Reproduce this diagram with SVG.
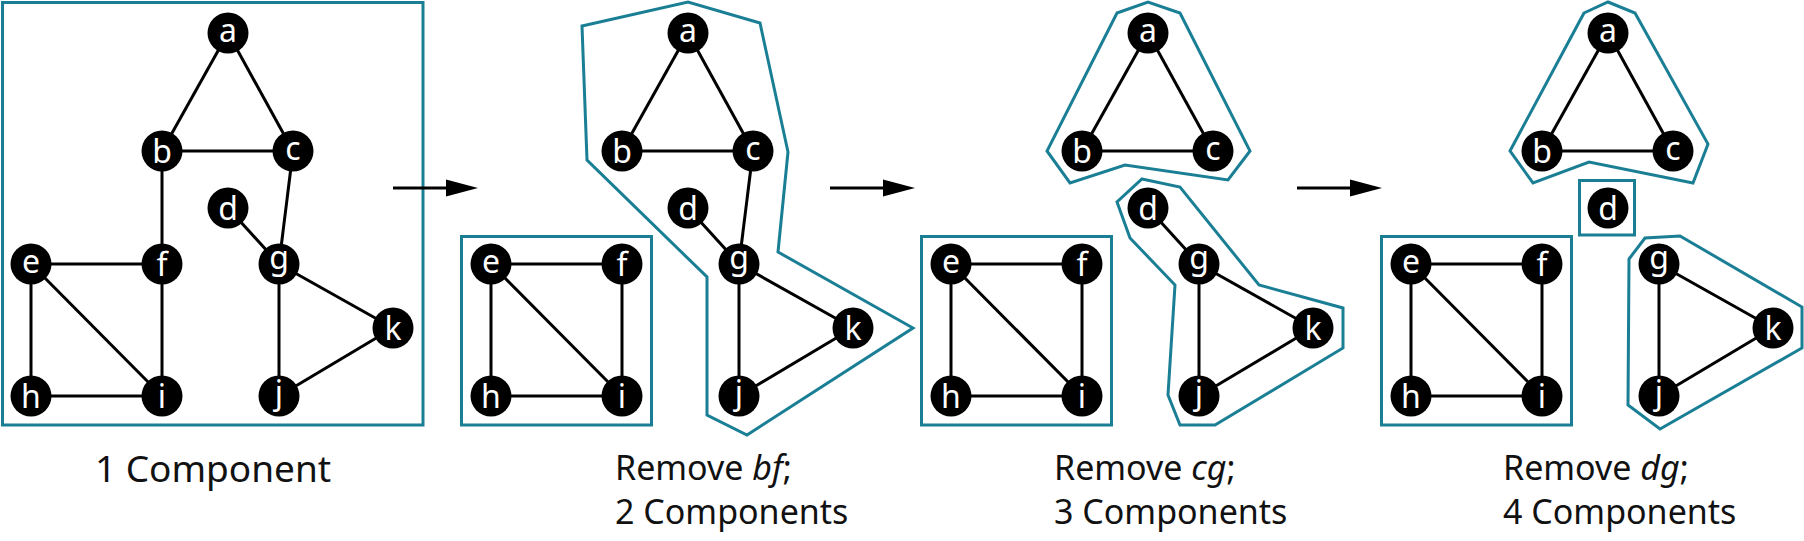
<svg xmlns="http://www.w3.org/2000/svg" width="1804" height="541" viewBox="0 0 1804 541">
<style>
.n circle{fill:#000}
.n text{fill:#fff;font-family:"Noto Sans","Open Sans",sans-serif;font-size:32px;text-anchor:middle}
.e line{stroke:#000;stroke-width:3}
.comp{fill:none;stroke:#1a7f95;stroke-width:3;stroke-linejoin:miter}
.arr{stroke:#000;stroke-width:3;marker-end:url(#ah)}
.cap{font-family:"Noto Sans","Open Sans",sans-serif;fill:#111}
</style>
<defs>
<marker id="ah" markerUnits="userSpaceOnUse" markerWidth="32" markerHeight="18" refX="0" refY="9" orient="auto">
<path d="M0,0.5 L32,9 L0,17.5 z" fill="#000"/>
</marker>
</defs>
<rect width="1804" height="541" fill="#fff"/>

<!-- component outlines -->
<g id="components">
<rect class="comp" x="2.5" y="2.5" width="420.5" height="422.5"/>
<rect class="comp" x="461.5" y="236.5" width="190" height="188.5"/>
<polygon class="comp" points="582,26 688,2 760,23 788,152 778,252 913,328 747,435 707,415 707,277 587,160"/>
<rect class="comp" x="921.5" y="236.5" width="190" height="188.5"/>
<polygon class="comp" points="1117,13 1148,2 1180,13 1250,151 1228,180 1125,165 1070,183 1047,151"/>
<polygon class="comp" points="1142,179 1180,187 1259,285 1343,308 1343,348 1215,425 1180,425 1168,395 1175,285 1130,238 1117,202"/>
<rect class="comp" x="1381.5" y="236.5" width="190" height="188.5"/>
<polygon class="comp" points="1584,13 1608,2 1635,13 1708,144 1693,183 1589,162 1533,183 1510,151"/>
<rect class="comp" x="1579.5" y="180.5" width="55" height="54.5"/>
<polygon class="comp" points="1629,259 1645,238 1680,236 1802,307 1802,348 1660,429 1628,405"/>
</g>

<!-- connectors -->
<g id="connectors">
<g class="e" id="edges-1">
<line x1="228" y1="33" x2="162" y2="151"/><line x1="228" y1="33" x2="293" y2="151"/><line x1="162" y1="151" x2="293" y2="151"/>
<line x1="162" y1="151" x2="162" y2="264"/><line x1="293" y1="151" x2="279" y2="264"/><line x1="228" y1="208" x2="279" y2="264"/>
<line x1="31" y1="264" x2="162" y2="264"/><line x1="31" y1="264" x2="31" y2="396"/><line x1="31" y1="264" x2="162" y2="396"/>
<line x1="162" y1="264" x2="162" y2="396"/><line x1="31" y1="396" x2="162" y2="396"/>
<line x1="279" y1="264" x2="279" y2="396"/><line x1="279" y1="264" x2="393" y2="328"/><line x1="279" y1="396" x2="393" y2="328"/>
</g>
<g class="e" id="edges-2" transform="translate(460,0)">
<line x1="228" y1="33" x2="162" y2="151"/><line x1="228" y1="33" x2="293" y2="151"/><line x1="162" y1="151" x2="293" y2="151"/>
<line x1="293" y1="151" x2="279" y2="264"/><line x1="228" y1="208" x2="279" y2="264"/>
<line x1="31" y1="264" x2="162" y2="264"/><line x1="31" y1="264" x2="31" y2="396"/><line x1="31" y1="264" x2="162" y2="396"/>
<line x1="162" y1="264" x2="162" y2="396"/><line x1="31" y1="396" x2="162" y2="396"/>
<line x1="279" y1="264" x2="279" y2="396"/><line x1="279" y1="264" x2="393" y2="328"/><line x1="279" y1="396" x2="393" y2="328"/>
</g>
<g class="e" id="edges-3" transform="translate(920,0)">
<line x1="228" y1="33" x2="162" y2="151"/><line x1="228" y1="33" x2="293" y2="151"/><line x1="162" y1="151" x2="293" y2="151"/>
<line x1="228" y1="208" x2="279" y2="264"/>
<line x1="31" y1="264" x2="162" y2="264"/><line x1="31" y1="264" x2="31" y2="396"/><line x1="31" y1="264" x2="162" y2="396"/>
<line x1="162" y1="264" x2="162" y2="396"/><line x1="31" y1="396" x2="162" y2="396"/>
<line x1="279" y1="264" x2="279" y2="396"/><line x1="279" y1="264" x2="393" y2="328"/><line x1="279" y1="396" x2="393" y2="328"/>
</g>
<g class="e" id="edges-4" transform="translate(1380,0)">
<line x1="228" y1="33" x2="162" y2="151"/><line x1="228" y1="33" x2="293" y2="151"/><line x1="162" y1="151" x2="293" y2="151"/>
<line x1="31" y1="264" x2="162" y2="264"/><line x1="31" y1="264" x2="31" y2="396"/><line x1="31" y1="264" x2="162" y2="396"/>
<line x1="162" y1="264" x2="162" y2="396"/><line x1="31" y1="396" x2="162" y2="396"/>
<line x1="279" y1="264" x2="279" y2="396"/><line x1="279" y1="264" x2="393" y2="328"/><line x1="279" y1="396" x2="393" y2="328"/>
</g>
<line class="arr" x1="393" y1="188" x2="446" y2="188"/>
<line class="arr" x1="830" y1="188" x2="883" y2="188"/>
<line class="arr" x1="1297" y1="188" x2="1350" y2="188"/>
</g>

<!-- nodes -->
<g id="panel1">
<g class="n" id="p1-a"><circle cx="228" cy="33" r="20.5"/><text x="228" y="41.6">a</text></g>
<g class="n" id="p1-b"><circle cx="162" cy="151" r="20.5"/><text x="162" y="163.2">b</text></g>
<g class="n" id="p1-c"><circle cx="293" cy="151" r="20.5"/><text x="293" y="159.6">c</text></g>
<g class="n" id="p1-d"><circle cx="228" cy="208" r="20.5"/><text x="228" y="220.2">d</text></g>
<g class="n" id="p1-e"><circle cx="31" cy="264" r="20.5"/><text x="31" y="272.6">e</text></g>
<g class="n" id="p1-f"><circle cx="162" cy="264" r="20.5"/><text x="162" y="276.2">f</text></g>
<g class="n" id="p1-g"><circle cx="279" cy="264" r="20.5"/><text x="279" y="268.8">g</text></g>
<g class="n" id="p1-h"><circle cx="31" cy="396" r="20.5"/><text x="31" y="408.2">h</text></g>
<g class="n" id="p1-i"><circle cx="162" cy="396" r="20.5"/><text x="162" y="408.2">i</text></g>
<g class="n" id="p1-j"><circle cx="279" cy="396" r="20.5"/><text x="279" y="404.3">j</text></g>
<g class="n" id="p1-k"><circle cx="393" cy="328" r="20.5"/><text x="393" y="340.2">k</text></g>
</g>
<g id="panel2" transform="translate(460,0)">
<g class="n" id="p2-a"><circle cx="228" cy="33" r="20.5"/><text x="228" y="41.6">a</text></g>
<g class="n" id="p2-b"><circle cx="162" cy="151" r="20.5"/><text x="162" y="163.2">b</text></g>
<g class="n" id="p2-c"><circle cx="293" cy="151" r="20.5"/><text x="293" y="159.6">c</text></g>
<g class="n" id="p2-d"><circle cx="228" cy="208" r="20.5"/><text x="228" y="220.2">d</text></g>
<g class="n" id="p2-e"><circle cx="31" cy="264" r="20.5"/><text x="31" y="272.6">e</text></g>
<g class="n" id="p2-f"><circle cx="162" cy="264" r="20.5"/><text x="162" y="276.2">f</text></g>
<g class="n" id="p2-g"><circle cx="279" cy="264" r="20.5"/><text x="279" y="268.8">g</text></g>
<g class="n" id="p2-h"><circle cx="31" cy="396" r="20.5"/><text x="31" y="408.2">h</text></g>
<g class="n" id="p2-i"><circle cx="162" cy="396" r="20.5"/><text x="162" y="408.2">i</text></g>
<g class="n" id="p2-j"><circle cx="279" cy="396" r="20.5"/><text x="279" y="404.3">j</text></g>
<g class="n" id="p2-k"><circle cx="393" cy="328" r="20.5"/><text x="393" y="340.2">k</text></g>
</g>
<g id="panel3" transform="translate(920,0)">
<g class="n" id="p3-a"><circle cx="228" cy="33" r="20.5"/><text x="228" y="41.6">a</text></g>
<g class="n" id="p3-b"><circle cx="162" cy="151" r="20.5"/><text x="162" y="163.2">b</text></g>
<g class="n" id="p3-c"><circle cx="293" cy="151" r="20.5"/><text x="293" y="159.6">c</text></g>
<g class="n" id="p3-d"><circle cx="228" cy="208" r="20.5"/><text x="228" y="220.2">d</text></g>
<g class="n" id="p3-e"><circle cx="31" cy="264" r="20.5"/><text x="31" y="272.6">e</text></g>
<g class="n" id="p3-f"><circle cx="162" cy="264" r="20.5"/><text x="162" y="276.2">f</text></g>
<g class="n" id="p3-g"><circle cx="279" cy="264" r="20.5"/><text x="279" y="268.8">g</text></g>
<g class="n" id="p3-h"><circle cx="31" cy="396" r="20.5"/><text x="31" y="408.2">h</text></g>
<g class="n" id="p3-i"><circle cx="162" cy="396" r="20.5"/><text x="162" y="408.2">i</text></g>
<g class="n" id="p3-j"><circle cx="279" cy="396" r="20.5"/><text x="279" y="404.3">j</text></g>
<g class="n" id="p3-k"><circle cx="393" cy="328" r="20.5"/><text x="393" y="340.2">k</text></g>
</g>
<g id="panel4" transform="translate(1380,0)">
<g class="n" id="p4-a"><circle cx="228" cy="33" r="20.5"/><text x="228" y="41.6">a</text></g>
<g class="n" id="p4-b"><circle cx="162" cy="151" r="20.5"/><text x="162" y="163.2">b</text></g>
<g class="n" id="p4-c"><circle cx="293" cy="151" r="20.5"/><text x="293" y="159.6">c</text></g>
<g class="n" id="p4-d"><circle cx="228" cy="208" r="20.5"/><text x="228" y="220.2">d</text></g>
<g class="n" id="p4-e"><circle cx="31" cy="264" r="20.5"/><text x="31" y="272.6">e</text></g>
<g class="n" id="p4-f"><circle cx="162" cy="264" r="20.5"/><text x="162" y="276.2">f</text></g>
<g class="n" id="p4-g"><circle cx="279" cy="264" r="20.5"/><text x="279" y="268.8">g</text></g>
<g class="n" id="p4-h"><circle cx="31" cy="396" r="20.5"/><text x="31" y="408.2">h</text></g>
<g class="n" id="p4-i"><circle cx="162" cy="396" r="20.5"/><text x="162" y="408.2">i</text></g>
<g class="n" id="p4-j"><circle cx="279" cy="396" r="20.5"/><text x="279" y="404.3">j</text></g>
<g class="n" id="p4-k"><circle cx="393" cy="328" r="20.5"/><text x="393" y="340.2">k</text></g>
</g>

<!-- captions -->
<g id="captions">
<text class="cap" x="213" y="482" font-size="37" text-anchor="middle">1 Component</text>
<text class="cap" x="615" y="480" font-size="34">Remove <tspan font-style="italic">bf</tspan>;</text>
<text class="cap" x="615" y="524" font-size="34">2 Components</text>
<text class="cap" x="1054" y="480" font-size="34">Remove <tspan font-style="italic">cg</tspan>;</text>
<text class="cap" x="1054" y="524" font-size="34">3 Components</text>
<text class="cap" x="1503" y="480" font-size="34">Remove <tspan font-style="italic">dg</tspan>;</text>
<text class="cap" x="1503" y="524" font-size="34">4 Components</text>
</g>
</svg>
